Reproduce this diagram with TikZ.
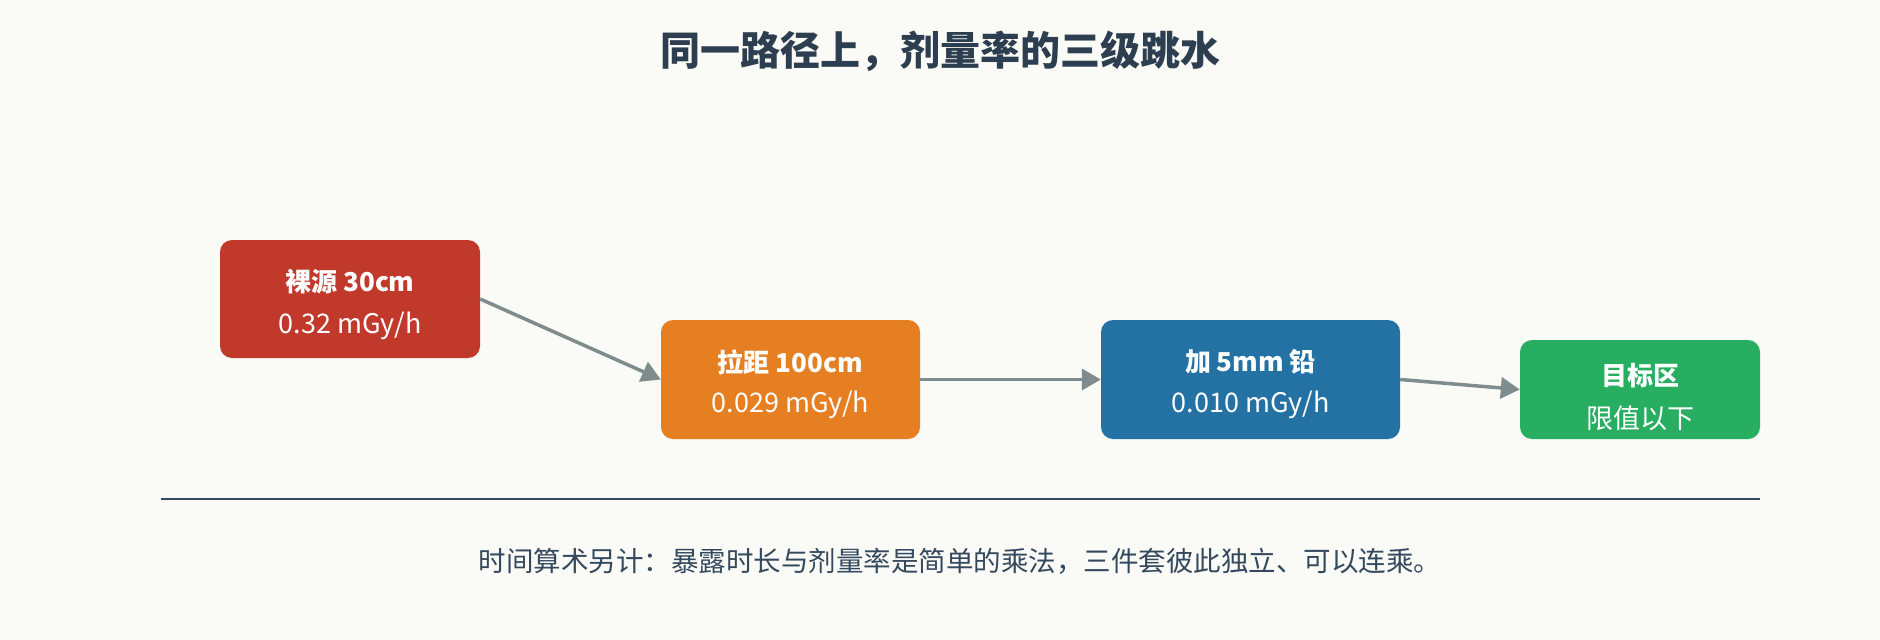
\documentclass[tikz,border=0pt]{standalone}
\usepackage{fontspec}
\setmainfont{Noto Sans CJK SC}
\usetikzlibrary{arrows.meta}
\definecolor{bg}{HTML}{FAFAF6}
\definecolor{cred}{HTML}{C0392B}
\definecolor{corange}{HTML}{E67E22}
\definecolor{cblue}{HTML}{2471A3}
\definecolor{cgreen}{HTML}{27AE60}
\definecolor{carrow}{HTML}{7F8C8D}
\definecolor{ctitle}{HTML}{2C3E50}
\definecolor{cfoot}{HTML}{34495E}
\tikzset{
  stagebox/.style={rounded corners=12pt, inner sep=0pt, text=white, align=center},
  headtxt/.style={text=white, font=\fontsize{26}{30}\selectfont\bfseries},
  subtxt/.style={text=white, font=\fontsize{27}{30}\selectfont},
  flow/.style={draw=carrow, line width=3.5pt, -{Triangle[length=19pt,width=21pt]}},
}
\begin{document}
\begin{tikzpicture}[x=1pt,y=-1pt]
\fill[bg] (0,0) rectangle (1880,640);
\useasboundingbox (0,0) rectangle (1880,640);
\node[text=ctitle, font=\fontsize{40}{46}\selectfont\bfseries] (title) at (940,51) {同一路径上，剂量率的三级跳水};

\node[stagebox, fill=cred, minimum width=260pt, minimum height=118pt] (b1) at (350,299) {};
\node[headtxt] (b1a) at (350,282) {裸源 30cm};
\node[subtxt] (b1b) at (350,326) {0.32 mGy/h};

\node[stagebox, fill=corange, minimum width=259pt, minimum height=119pt] (b2) at (790.5,379.5) {};
\node[headtxt] (b2a) at (790.5,362) {拉距 100cm};
\node[subtxt] (b2b) at (790.5,405) {0.029 mGy/h};

\node[stagebox, fill=cblue, minimum width=299pt, minimum height=119pt] (b3) at (1250.5,379.5) {};
\node[headtxt] (b3a) at (1250.5,362) {加 5mm 铅};
\node[subtxt] (b3b) at (1250.5,405) {0.010 mGy/h};

\node[stagebox, fill=cgreen, minimum width=240pt, minimum height=99pt] (b4) at (1640,389.5) {};
\node[headtxt] (b4a) at (1640,376) {目标区};
\node[subtxt] (b4b) at (1640,418) {限值以下};

\draw[flow] (b1.east) -- (b2.west);
\draw[flow] (b2.east) -- (b3.west);
\draw[flow] (b3.east) -- (b4.west);

\coordinate (s1) at (161,499);
\coordinate (s2) at (1760,499);
\draw[cfoot, line width=2.5pt] (s1) -- (s2);

\node[text=cfoot, font=\fontsize{27.5}{32}\selectfont] (foot) at (960,561) {时间算术另计：暴露时长与剂量率是简单的乘法，三件套彼此独立、可以连乘。};
\end{tikzpicture}
\end{document}
